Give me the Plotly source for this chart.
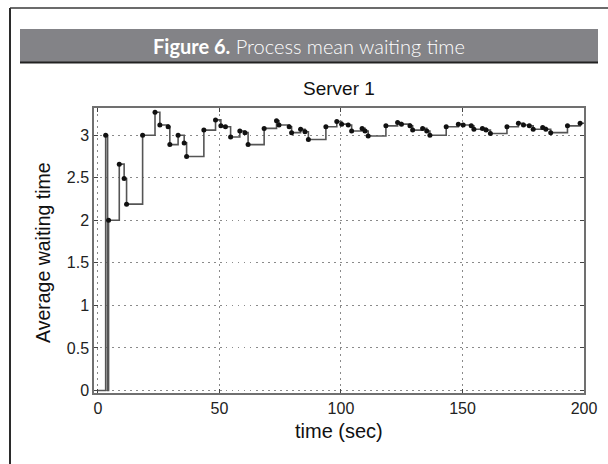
import plotly.graph_objects as go

# ---- data ----
time_sec = [0, 3.2, 4.0, 4.4, 8.8, 10.8, 11.8,
            18.4, 23.5, 25.5, 28.9, 29.6, 33.0, 35.5, 36.5,
            43.6, 48.4, 50.6, 52.5, 54.6, 58.4, 60.5, 61.8,
            68.4, 73.5, 74.5, 78.7, 79.7, 83.4, 85.2, 86.6,
            93.8, 98.3, 100.3, 103.0, 104.4, 108.7, 109.9, 111.2,
            118.5, 123.3, 124.9, 128.4, 129.5, 133.6, 135.3, 136.6,
            143.3, 148.3, 150.3, 153.6, 154.7, 158.2, 159.7, 161.5,
            168.3, 173.0, 175.1, 177.5, 179.1, 183.0, 184.3, 186.3,
            193.2, 198.4]
avg_wait = [0, 3.0, 0, 2.0, 2.66, 2.49, 2.19,
            3.0, 3.27, 3.12, 3.10, 2.89, 3.0, 2.91, 2.75,
            3.06, 3.18, 3.11, 3.10, 2.98, 3.05, 3.03, 2.89,
            3.08, 3.17, 3.12, 3.10, 3.03, 3.07, 3.04, 2.95,
            3.10, 3.16, 3.13, 3.12, 3.05, 3.08, 3.05, 2.99,
            3.11, 3.15, 3.13, 3.11, 3.06, 3.08, 3.05, 3.00,
            3.10, 3.13, 3.12, 3.11, 3.07, 3.08, 3.06, 3.02,
            3.10, 3.14, 3.12, 3.11, 3.07, 3.09, 3.07, 3.03,
            3.11, 3.14]
end_time = 200

x_ticks = [0, 50, 100, 150, 200]
y_ticks = [0, 0.5, 1, 1.5, 2, 2.5, 3]
y_tick_labels = ["0", "0.5", "1", "1.5", "2", "2.5", "3"]

banner_bold = "Figure 6."
banner_text = "Process mean waiting time"
plot_title = "Server 1"
x_title = "time (sec)"
y_title = "Average waiting time"

# ---- geometry helpers (pixel -> paper) ----
W, H = 608, 464
L, R, T, B = 94, 584, 108, 393
def px(x):
    return (x - L) / (R - L)
def py(y):
    return (B - y) / (B - T)

mk_x = [t for t, v in zip(time_sec, avg_wait) if v > 0]
mk_y = [v for v in avg_wait if v > 0]

fig = go.Figure()
fig.add_trace(go.Scatter(
    x=time_sec + [end_time], y=avg_wait + [avg_wait[-1]],
    mode="lines", line=dict(shape="hv", color="#555555", width=1.6),
    hoverinfo="skip", showlegend=False))
fig.add_trace(go.Scatter(
    x=mk_x, y=mk_y, mode="markers",
    marker=dict(color="#111111", size=5), showlegend=False))

axis_common = dict(
    showline=True, linecolor="#707070", linewidth=1.5, mirror="ticks",
    ticks="inside", ticklen=4, tickcolor="#444444", tickwidth=1,
    showgrid=True, gridcolor="#8a8a8a", gridwidth=1, griddash="1.5px,4.5px",
    zeroline=False,
    tickfont=dict(family="Liberation Sans, Arial, sans-serif", size=16, color="#222222"),
)
fig.update_xaxes(range=[-1.6, 200], tickvals=x_ticks, ticktext=[str(v) for v in x_ticks], **axis_common)
fig.update_yaxes(range=[-0.03, 3.32], tickvals=y_ticks, ticktext=y_tick_labels, **axis_common)

shapes = [
    # outer frame
    dict(type="line", xref="paper", yref="paper", x0=px(10), x1=px(10), y0=py(8), y1=py(470),
         line=dict(color="#2b2b2b", width=2)),
    dict(type="line", xref="paper", yref="paper", x0=px(10), x1=px(612), y0=py(8), y1=py(8),
         line=dict(color="#3a3a3a", width=1.5)),
    # banner
    dict(type="rect", xref="paper", yref="paper", x0=px(20), x1=px(598), y0=py(29), y1=py(62),
         fillcolor="#838387", line=dict(width=0)),
    dict(type="line", xref="paper", yref="paper", x0=px(20), x1=px(598), y0=py(62.5), y1=py(62.5),
         line=dict(color="#222222", width=2)),
]

annotations = [
    dict(xref="paper", yref="paper", x=px(309), y=py(46), xanchor="center", yanchor="middle",
         text=f"<b>{banner_bold}</b> {banner_text}", showarrow=False,
         font=dict(family="Lato, Noto Sans, sans-serif", size=20, color="#ffffff", weight=300)),
    dict(xref="paper", yref="paper", x=0.5, y=py(88), xanchor="center", yanchor="middle",
         text=plot_title, showarrow=False,
         font=dict(family="Liberation Sans, Arial, sans-serif", size=19, color="#111111")),
    dict(xref="paper", yref="paper", x=0.5, y=py(431), xanchor="center", yanchor="middle",
         text=x_title, showarrow=False,
         font=dict(family="Liberation Sans, Arial, sans-serif", size=20, color="#111111")),
    dict(xref="paper", yref="paper", x=px(43), y=py(253), xanchor="center", yanchor="middle",
         text=y_title, textangle=-90, showarrow=False,
         font=dict(family="Liberation Sans, Arial, sans-serif", size=19.5, color="#111111")),
]

fig.update_layout(
    width=W, height=H, autosize=False,
    margin=dict(l=L, r=W - R, t=T, b=H - B, pad=0),
    paper_bgcolor="#ffffff", plot_bgcolor="#ffffff",
    shapes=shapes, annotations=annotations, showlegend=False,
)

fig.write_html("out.html", config={"displayModeBar": False},
               post_script="document.body.style.margin='0';document.body.style.padding='0';")
